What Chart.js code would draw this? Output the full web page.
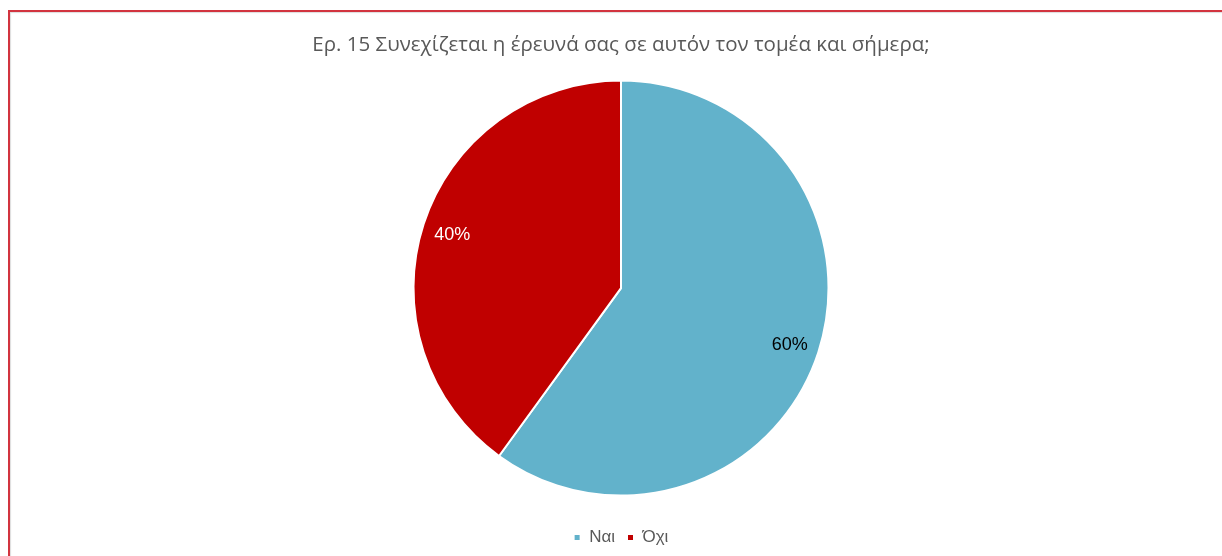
<!DOCTYPE html>
<html>
<head>
<meta charset="utf-8">
<script src="https://cdn.jsdelivr.net/npm/chart.js@4"></script>
<style>
  html, body { margin: 0; padding: 0; background: #fff; }
  body { width: 1222px; height: 556px; position: relative; overflow: hidden; }
  #frame {
    position: absolute; left: 8px; top: 10px; width: 1230px; height: 560px;
    border-left: 2px solid #d2343f; border-top: 2px solid #d2343f;
    box-shadow: 1px 1px 1px #ddd inset;
  }
  #wrap { position: absolute; left: 0; top: 0; width: 1222px; height: 556px; }
</style>
</head>
<body>
<div id="frame"></div>
<div id="wrap"><canvas id="pieChart"></canvas></div>
<script>
// datos del gráfico
const categorias = ['Ναι', 'Όχι'];
const valores = [60, 40];
const colores = ['#62b2cb', '#c00000'];
const coloresEtiqueta = ['#000000', '#ffffff'];
const titulo = 'Ερ. 15 Συνεχίζεται η έρευνά σας σε αυτόν τον τομέα και σήμερα;';

// etiquetas de porcentaje dentro de cada sector
const etiquetasPlugin = {
    id: 'etiquetas',
    afterDatasetsDraw(chart) {
        const ctx = chart.ctx;
        const meta = chart.getDatasetMeta(0);
        const total = valores.reduce((a, b) => a + b, 0);
        ctx.save();
        ctx.font = '18px "Liberation Sans", Arial, sans-serif';
        ctx.textAlign = 'center';
        ctx.textBaseline = 'middle';
        meta.data.forEach((arc, i) => {
            const p = arc.getProps(['x', 'y', 'startAngle', 'endAngle', 'outerRadius'], true);
            const mid = (p.startAngle + p.endAngle) / 2;
            const r = p.outerRadius * 0.855;
            ctx.fillStyle = coloresEtiqueta[i];
            ctx.fillText(Math.round(valores[i] / total * 100) + '%', p.x + Math.cos(mid) * r, p.y + Math.sin(mid) * r + 2);
        });
        ctx.restore();
    }
};

let pieChart = document.getElementById('pieChart').getContext('2d');
new Chart(pieChart, {
    type: 'pie',
    data: {
        labels: categorias,
        datasets: [{
            data: valores,
            backgroundColor: colores,
            borderColor: '#ffffff',
            borderWidth: 2
        }]
    },
    options: {
        responsive: true,
        maintainAspectRatio: false,
        animation: false,
        layout: { padding: { top: 0, bottom: 0, left: 20, right: 0 } },
        plugins: {
            title: {
                display: true,
                text: titulo,
                color: '#595959',
                font: { family: '"Open Sans", sans-serif', size: 20.5, weight: 'normal' },
                padding: { top: 33, bottom: 22 }
            },
            legend: {
                position: 'bottom',
                title: { display: true, text: '', padding: 3 },
                labels: {
                    color: '#595959',
                    font: { family: '"Liberation Sans", Arial, sans-serif', size: 17 },
                    boxWidth: 7,
                    boxHeight: 7,
                    padding: 12
                }
            },
            tooltip: { enabled: false }
        }
    },
    plugins: [etiquetasPlugin]
});
</script>
</body>
</html>
